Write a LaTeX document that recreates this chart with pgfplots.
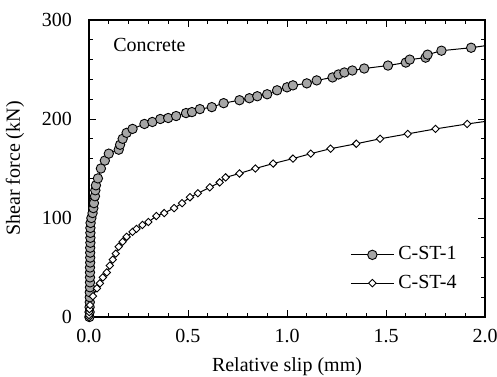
\documentclass[border=0pt]{standalone}
\usepackage{fontspec}
\setmainfont{Liberation Serif}
\usepackage{pgfplots}
\pgfplotsset{compat=1.18}
\definecolor{markgray}{RGB}{166,166,166}
\begin{document}
\fontsize{10}{12}\selectfont
\begin{tikzpicture}
\begin{axis}[
  scale only axis,
  width=198pt, height=148.5pt,
  xmin=0, xmax=2, ymin=0, ymax=300,
  xtick={0,0.5,1,1.5,2},
  minor x tick num=4,
  ytick={0,100,200,300},
  minor y tick num=4,
  tick align=inside,
  major tick length=3.5pt,
  minor tick length=2pt,
  axis line style={line width=0.9pt},
  every tick/.style={black, line width=0.5pt},
  tick label style={font=\fontsize{10}{12}\selectfont},
  /pgf/number format/assume math mode=true,
  xticklabel style={yshift=-2.5pt, /pgf/number format/.cd, fixed, fixed zerofill, precision=1},
  yticklabel style={xshift=-5pt, /pgf/number format/.cd, fixed},
  scaled x ticks=false, scaled y ticks=false,
  xlabel={Relative slip (mm)},
  ylabel={Shear force (kN)},
  label style={font=\fontsize{10}{12}\selectfont},
  every axis x label/.style={at={(rel axis cs:0.5,0)}, yshift=-25pt, anchor=center},
  every axis y label/.style={at={(rel axis cs:0,0.5)}, xshift=-37pt, rotate=90, anchor=center},
  legend style={draw=none, fill=none, at={(axis cs:1.318,48.5)}, anchor=west, inner sep=0pt, row sep=2pt, font=\fontsize{10}{12}\selectfont},
  legend cell align=left,
  legend image code/.code={\draw[mark repeat=2,mark phase=2,#1] plot coordinates {(0pt,0pt) (10.75pt,0pt) (21.5pt,0pt)};},
]
\addplot[black, line width=0.5pt, mark=*, mark size=2.35pt, mark options={fill=markgray, draw=black, line width=0.45pt}] coordinates {
(0.002,0) (0.003,5) (0.003,10) (0.004,15) (0.004,20) (0.004,25) (0.005,30) (0.005,35) (0.005,40) (0.005,45) (0.005,50) (0.006,55) (0.006,60) (0.006,65) (0.006,70) (0.007,75) (0.007,80) (0.007,85) (0.007,90) (0.008,95) (0.012,100) (0.018,105) (0.022,110) (0.025,115) (0.03,122) (0.032,128) (0.035,133) (0.045,140) (0.06,150) (0.08,158) (0.1,165) (0.15,169) (0.157,174) (0.17,180) (0.19,186) (0.22,190) (0.28,195) (0.32,197) (0.36,200) (0.4,201) (0.44,203) (0.49,206) (0.52,207) (0.56,210) (0.62,212) (0.68,216) (0.76,219) (0.81,221) (0.85,223) (0.9,225) (0.95,229) (1.0,232) (1.03,234) (1.1,236) (1.15,239) (1.23,242) (1.26,245) (1.29,247) (1.33,249) (1.39,251) (1.51,254) (1.6,257) (1.62,260) (1.70,262) (1.71,265) (1.78,269) (1.93,272)
};
\addlegendentry{C-ST-1}
\addplot[black, line width=0.5pt, mark=square*, mark size=1.3pt, mark options={rotate=45, fill=white, draw=black, line width=0.45pt}] coordinates {
(0,0) (0.0,2) (0.001,5) (0.002,8) (0.005,12) (0.02,21) (0.04,29) (0.055,34) (0.07,40) (0.09,45) (0.105,52) (0.12,58) (0.135,64) (0.15,71) (0.17,76) (0.19,81) (0.22,86) (0.24,89) (0.27,93) (0.30,96) (0.34,102) (0.38,105) (0.43,110) (0.47,115) (0.51,121) (0.55,125) (0.61,131) (0.66,136) (0.69,141) (0.76,145) (0.84,150) (0.93,155) (1.03,160) (1.12,165) (1.22,170) (1.35,175) (1.47,180) (1.61,185) (1.75,190) (1.91,195)
};
\addlegendentry{C-ST-4}
\addplot[black, line width=0.5pt, forget plot] coordinates {(1.93,272) (2.0,274)};
\addplot[black, line width=0.5pt, forget plot] coordinates {(1.91,195) (2.0,197.5)};
\node[anchor=west, inner sep=0pt, font=\fontsize{10}{12}\selectfont] at (axis cs:0.121,275) {Concrete};
\end{axis}
\pgfresetboundingbox
\path ([shift={(-44.5pt,-29.5pt)}]current axis.south west) rectangle ([shift={(6pt,10pt)}]current axis.north east);
\end{tikzpicture}
\end{document}
